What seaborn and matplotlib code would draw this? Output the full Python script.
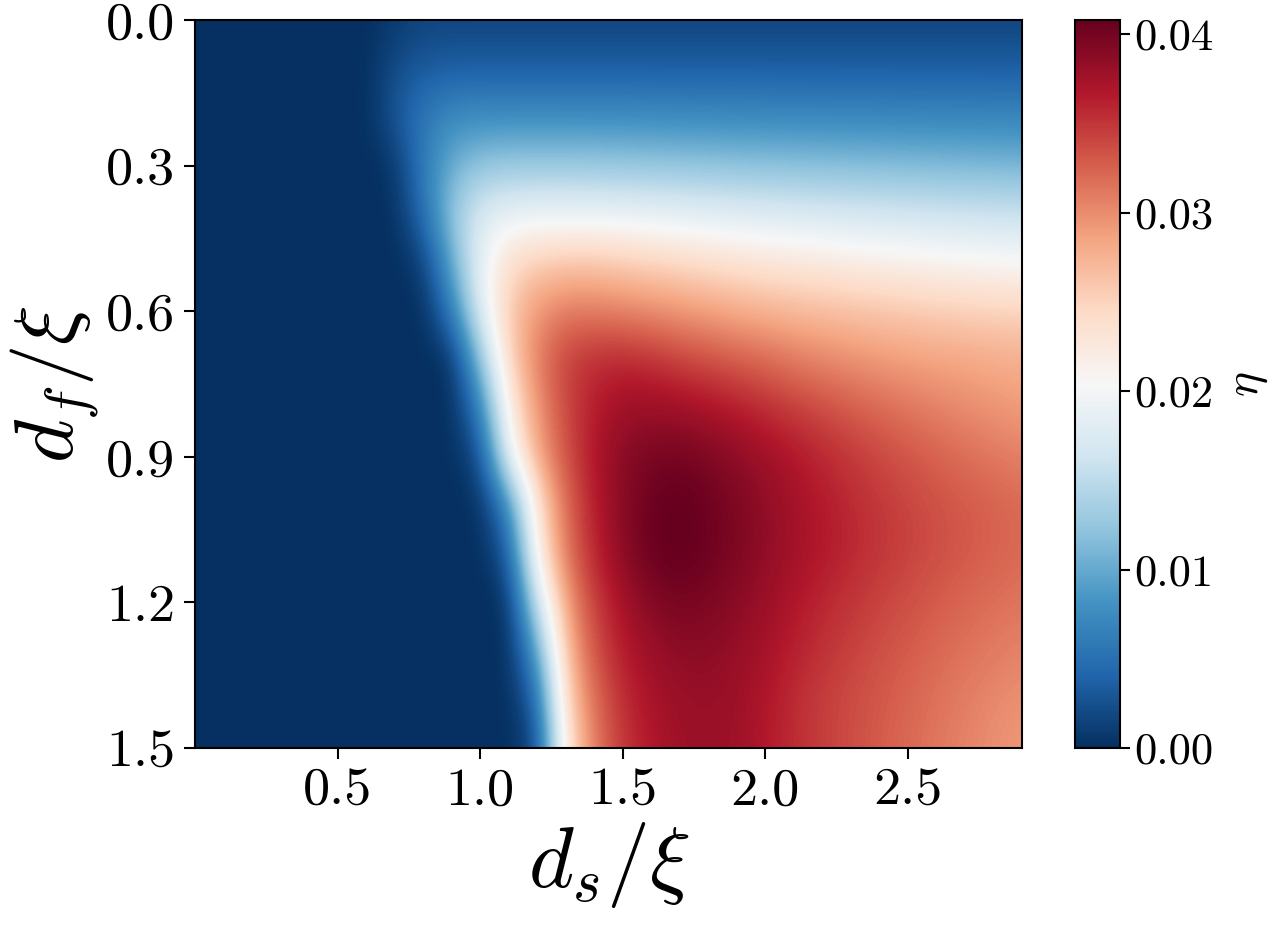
import numpy as np
import matplotlib
matplotlib.use("Agg")
import matplotlib.pyplot as plt
import seaborn as sns

# ------------------------
# Data
# ------------------------
ds = [round(0.1 * i, 1) for i in range(30)]      # d_s / xi, 0.0 .. 2.9
df_ = [round(0.1 * j, 1) for j in range(16)]     # d_f / xi, 0.0 .. 1.5

eta_rows = [
    # x: 0.0 0.1 0.2 0.3 0.4 0.5 0.6 | 0.7 .. 2.9
    [0, 0, 0, 0, 0, 0, 0, 0.0008, 0.0015, 0.0015, 0.0015, 0.0015, 0.0015, 0.0015, 0.0015,
     0.0015, 0.0015, 0.0015, 0.0015, 0.0015, 0.0015, 0.0015, 0.0015, 0.0015, 0.0015, 0.0015,
     0.0015, 0.0015, 0.0015, 0.0015],
    [0, 0, 0, 0, 0, 0, 0, 0.0022, 0.0032, 0.0035, 0.0035, 0.0035, 0.0035, 0.0035, 0.0035,
     0.0035, 0.0035, 0.0035, 0.0035, 0.0035, 0.0035, 0.0035, 0.0035, 0.0035, 0.0035, 0.0035,
     0.0035, 0.0035, 0.0035, 0.0035],
    [0, 0, 0, 0, 0, 0, 0, 0.003, 0.0058, 0.0074, 0.0076, 0.0076, 0.0076, 0.0076, 0.0076,
     0.0076, 0.0075, 0.0074, 0.0074, 0.0073, 0.0073, 0.0072, 0.0072, 0.0071, 0.0071, 0.0070,
     0.0070, 0.0070, 0.0069, 0.0069],
    [0, 0, 0, 0, 0, 0, 0, 0.0005, 0.006, 0.0105, 0.0122, 0.0126, 0.0126, 0.0126, 0.0125,
     0.0124, 0.0123, 0.0122, 0.0121, 0.0119, 0.0118, 0.0117, 0.0116, 0.0115, 0.0114, 0.0113,
     0.0112, 0.0111, 0.011, 0.0108],
    [0, 0, 0, 0, 0, 0, 0, 0, 0.005, 0.0125, 0.0175, 0.0188, 0.019, 0.019, 0.019,
     0.0188, 0.0186, 0.0183, 0.018, 0.0178, 0.0175, 0.0173, 0.017, 0.0168, 0.0166, 0.0164,
     0.0162, 0.0160, 0.0159, 0.0158],
    [0, 0, 0, 0, 0, 0, 0, 0, 0.001, 0.010, 0.019, 0.024, 0.0255, 0.026, 0.026,
     0.0255, 0.025, 0.0245, 0.024, 0.0235, 0.023, 0.0228, 0.0225, 0.022, 0.0218, 0.0215,
     0.0212, 0.021, 0.0207, 0.0205],
    [0, 0, 0, 0, 0, 0, 0, 0, 0, 0.006, 0.018, 0.026, 0.0295, 0.031, 0.031,
     0.0305, 0.030, 0.0293, 0.0287, 0.028, 0.0275, 0.027, 0.0267, 0.0264, 0.0261, 0.0258,
     0.0255, 0.0253, 0.0251, 0.025],
    [0, 0, 0, 0, 0, 0, 0, 0, 0, 0, 0.012, 0.025, 0.031, 0.0345, 0.0355,
     0.0358, 0.0352, 0.0343, 0.0335, 0.0327, 0.032, 0.031, 0.0303, 0.0297, 0.0292, 0.0288,
     0.0285, 0.0283, 0.028, 0.0278],
    [0, 0, 0, 0, 0, 0, 0, 0, 0, 0, 0.006, 0.022, 0.0295, 0.034, 0.0365,
     0.0378, 0.038, 0.0377, 0.0372, 0.0364, 0.0355, 0.0346, 0.0337, 0.0328, 0.032, 0.0313,
     0.0306, 0.030, 0.0295, 0.029],
    [0, 0, 0, 0, 0, 0, 0, 0, 0, 0, 0.002, 0.019, 0.0285, 0.0335, 0.037,
     0.039, 0.0398, 0.040, 0.0395, 0.0387, 0.0378, 0.0368, 0.0358, 0.0349, 0.034, 0.0332,
     0.0325, 0.0318, 0.0312, 0.0307],
    [0, 0, 0, 0, 0, 0, 0, 0, 0, 0, 0, 0.007, 0.0235, 0.032, 0.0365,
     0.039, 0.0405, 0.041, 0.0403, 0.0395, 0.0385, 0.0375, 0.0366, 0.0357, 0.0349, 0.0342,
     0.0335, 0.033, 0.0325, 0.032],
    [0, 0, 0, 0, 0, 0, 0, 0, 0, 0, 0, 0.003, 0.022, 0.0315, 0.036,
     0.039, 0.0405, 0.041, 0.0403, 0.0395, 0.0385, 0.0375, 0.0367, 0.0358, 0.035, 0.0343,
     0.0336, 0.033, 0.0325, 0.032],
    [0, 0, 0, 0, 0, 0, 0, 0, 0, 0, 0, 0, 0.016, 0.029, 0.0345,
     0.0375, 0.0392, 0.0398, 0.0395, 0.0388, 0.038, 0.0368, 0.0358, 0.035, 0.0342, 0.0335,
     0.0328, 0.0322, 0.0317, 0.0313],
    [0, 0, 0, 0, 0, 0, 0, 0, 0, 0, 0, 0, 0.009, 0.027, 0.0335,
     0.0365, 0.038, 0.0387, 0.0387, 0.0382, 0.0373, 0.0362, 0.0352, 0.0343, 0.0335, 0.0328,
     0.0321, 0.0315, 0.031, 0.0305],
    [0, 0, 0, 0, 0, 0, 0, 0, 0, 0, 0, 0, 0.004, 0.025, 0.032,
     0.0355, 0.0372, 0.038, 0.0382, 0.0378, 0.0368, 0.0355, 0.0345, 0.0337, 0.033, 0.0323,
     0.0315, 0.0308, 0.0302, 0.0297],
    [0, 0, 0, 0, 0, 0, 0, 0, 0, 0, 0, 0, 0.0015, 0.023, 0.031,
     0.035, 0.0368, 0.0377, 0.038, 0.0377, 0.0367, 0.0355, 0.0345, 0.0337, 0.0328, 0.032,
     0.0312, 0.0305, 0.0298, 0.0292],
]

x_ticks = [0.5, 1.0, 1.5, 2.0, 2.5]
y_ticks = [0.0, 0.3, 0.6, 0.9, 1.2, 1.5]
cbar_ticks = [0.00, 0.01, 0.02, 0.03, 0.04]

# ------------------------
# Style
# ------------------------
sns.set_theme(style="ticks", rc={
    'text.color': 'black',
    'axes.labelcolor': 'black',
    'axes.edgecolor': 'black',
    'xtick.color': 'black',
    'ytick.color': 'black',
})
plt.rcParams['font.family'] = 'serif'
plt.rcParams['font.serif'] = ['cmr10', 'DejaVu Serif']
plt.rcParams['mathtext.fontset'] = 'cm'
plt.rcParams['axes.formatter.use_mathtext'] = True
plt.rcParams['axes.unicode_minus'] = False

cmap = sns.color_palette("RdBu_r", as_cmap=True)

eta = np.array(eta_rows)
dx = ds[1] - ds[0]
dy = df_[1] - df_[0]

fig = plt.figure(figsize=(12.7, 9.26), dpi=100)
ax = fig.add_axes([0.1535, 0.1922, 0.6512, 0.7862])
cax = fig.add_axes([0.8465, 0.1922, 0.0354, 0.7862])

im = ax.imshow(
    eta,
    cmap=cmap,
    vmin=0.0,
    vmax=0.0408,
    aspect='auto',
    origin='upper',
    interpolation='bicubic',
    extent=[ds[0] - dx / 2, ds[-1] + dx / 2, df_[-1] + dy / 2, df_[0] - dy / 2],
)
ax.set_xlim(0.0, 2.9)
ax.set_ylim(1.5, 0.0)

ax.set_xticks(x_ticks)
ax.set_xticklabels([f"{t:.1f}" for t in x_ticks])
ax.set_yticks(y_ticks)
ax.set_yticklabels([f"{t:.1f}" for t in y_ticks])
ax.tick_params(axis='both', direction='out', length=8, width=1.5,
               labelsize=39, color='black', labelcolor='black', pad=6)
for sp in ax.spines.values():
    sp.set_linewidth(1.5)
    sp.set_color('black')

ax.set_xlabel(r'$d_s/\xi$', fontsize=62, labelpad=4)
ax.set_ylabel(r'$d_f/\xi$', fontsize=60, labelpad=4)

cb = fig.colorbar(im, cax=cax)
cb.set_ticks(cbar_ticks)
cb.set_ticklabels([f"{t:.2f}" for t in cbar_ticks])
cb.ax.tick_params(direction='out', length=7, width=1.5, labelsize=32, pad=3,
                  color='black', labelcolor='black')
cb.outline.set_linewidth(1.5)
cb.set_label(r'$\eta$', fontsize=34, labelpad=11)

plt.savefig("out.png", dpi=100)
